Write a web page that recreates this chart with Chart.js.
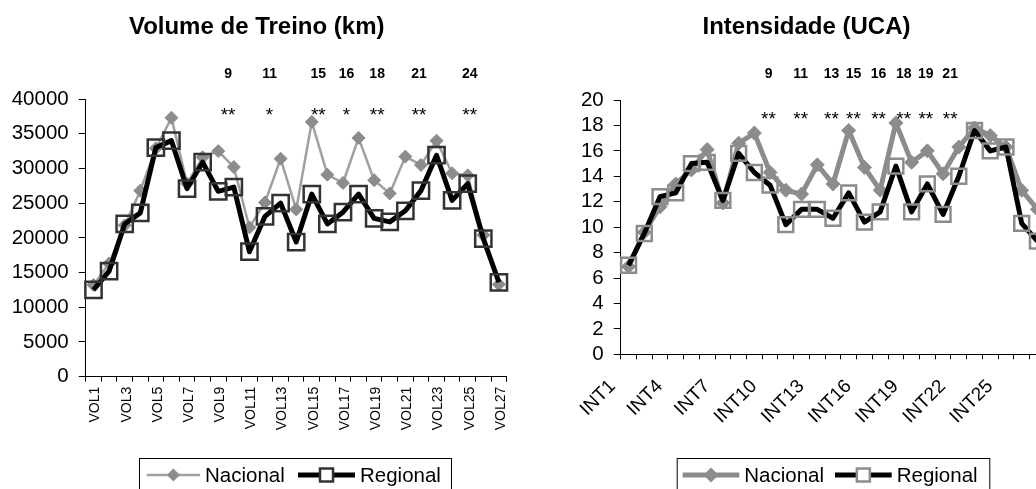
<!DOCTYPE html>
<html>
<head>
<meta charset="utf-8">
<script src="https://cdn.jsdelivr.net/npm/chart.js@4/dist/chart.umd.min.js"></script>
<style>
  html, body { margin: 0; padding: 0; background: #fff; }
  body { width: 1036px; height: 489px; overflow: hidden; position: relative; }
  .panel { position: absolute; top: 0; }
  #leftPanel  { left: 0; }
  #rightPanel { left: 530px; }
</style>
</head>
<body>
<div class="panel" id="leftPanel"><canvas id="volChart" width="530" height="489"></canvas></div>
<div class="panel" id="rightPanel"><canvas id="intChart" width="540" height="489"></canvas></div>

<script>
// ── data ───────────────────────────────────────────────────────────
const volLabels = ['VOL1','VOL2','VOL3','VOL4','VOL5','VOL6','VOL7','VOL8','VOL9','VOL10',
  'VOL11','VOL12','VOL13','VOL14','VOL15','VOL16','VOL17','VOL18','VOL19','VOL20',
  'VOL21','VOL22','VOL23','VOL24','VOL25','VOL26','VOL27'];
const volNacional = [13200, 16300, 21800, 26800, 32900, 37300, 27800, 31600, 32500, 30200,
  21500, 25100, 31400, 24100, 36700, 29100, 27900, 34400, 28300, 26400,
  31700, 30500, 34000, 29300, 29000, 20400, 13300];
const volRegional = [12500, 15200, 22000, 23600, 33000, 34000, 27100, 30900, 26700, 27300,
  18000, 23100, 25000, 19400, 26300, 22000, 23700, 26300, 22800, 22300,
  23900, 26800, 31900, 25400, 27800, 19900, 13600];
const volTicks = [0, 5000, 10000, 15000, 20000, 25000, 30000, 35000, 40000];
const volMarks = ['9', '11', '15', '16', '18', '21', '24'];
const volStars = ['**', '*', '**', '*', '**', '**', '**'];
const volMarkAt = [8.63, 11.29, 14.42, 16.23, 18.19, 20.88, 24.13]; // category units

const intLabels = ['INT1','INT2','INT3','INT4','INT5','INT6','INT7','INT8','INT9','INT10',
  'INT11','INT12','INT13','INT14','INT15','INT16','INT17','INT18','INT19','INT20',
  'INT21','INT22','INT23','INT24','INT25','INT26','INT27'];
const intNacional = [6.9, 9.6, 11.6, 13.4, 14.5, 16.1, 11.9, 16.6, 17.4, 14.3,
  12.9, 12.6, 14.9, 13.4, 17.6, 14.7, 12.9, 18.2, 15.1, 16.0,
  14.2, 16.3, 17.8, 17.2, 16.3, 12.9, 11.4];
const intRegional = [7.0, 9.5, 12.4, 12.7, 15.0, 15.1, 12.1, 15.8, 14.3, 13.3,
  10.2, 11.4, 11.4, 10.7, 12.7, 10.4, 11.2, 14.8, 11.2, 13.4,
  11.0, 14.0, 17.6, 16.0, 16.3, 10.3, 8.9];
const intTicks = [0, 2, 4, 6, 8, 10, 12, 14, 16, 18, 20];
const intMarks = ['9', '11', '13', '15', '16', '18', '19', '21'];
const intStars = ['**', '**', '**', '**', '**', '**', '**', '**'];
const intMarkAt = [8.9, 10.95, 12.9, 14.3, 15.9, 17.5, 18.9, 20.45];

// ── helpers ────────────────────────────────────────────────────────
const FONT = '"Liberation Sans", Arial, Helvetica, sans-serif';
Chart.defaults.font.family = FONT;
Chart.defaults.color = '#000';

function marker(ctx, style, x, y, r, fill, stroke, lw) {
  ctx.beginPath();
  if (style === 'diamond') {
    ctx.moveTo(x, y - r); ctx.lineTo(x + r, y); ctx.lineTo(x, y + r); ctx.lineTo(x - r, y);
  } else {
    ctx.rect(x - r, y - r, r * 2, r * 2);
  }
  ctx.closePath();
  if (fill) { ctx.fillStyle = fill; ctx.fill(); }
  if (stroke) { ctx.strokeStyle = stroke; ctx.lineWidth = lw; ctx.stroke(); }
}

// title, session marks and boxed legend
const overlay = {
  id: 'overlay',
  afterDraw(chart, args, o) {
    const ctx = chart.ctx;
    const xs = chart.scales.x;
    ctx.save();
    ctx.fillStyle = '#000';
    ctx.textAlign = 'center';
    ctx.textBaseline = 'middle';
    ctx.font = 'bold 24px ' + FONT;
    ctx.fillText(o.title, o.titleX, 27);

    ctx.textBaseline = 'alphabetic';
    o.marks.forEach((m, i) => {
      const px = xs.getPixelForValue(o.markAt[i]);
      ctx.font = 'bold 14px ' + FONT;
      ctx.fillText(m, px, 78);
      ctx.font = '19px ' + FONT;
      ctx.fillText(o.stars[i], px, o.starY);
    });

    // legend
    const L = o.legend;
    ctx.strokeStyle = '#000';
    ctx.lineWidth = 1;
    ctx.strokeRect(L.left + 0.5, 458.5, L.width, 60);
    const ly = 475;
    L.items.forEach(it => {
      ctx.beginPath();
      ctx.moveTo(it.x0, ly); ctx.lineTo(it.x1, ly);
      ctx.strokeStyle = it.line; ctx.lineWidth = it.lw; ctx.stroke();
      marker(ctx, it.style, (it.x0 + it.x1) / 2, ly, it.r, it.fill, it.stroke, it.mlw);
      ctx.fillStyle = '#000';
      ctx.textAlign = 'left';
      ctx.textBaseline = 'middle';
      ctx.font = '20.5px ' + FONT;
      ctx.fillText(it.text, it.x1 + 5, ly + 1);
    });
    ctx.restore();
  }
};

function buildChart(id, cfg) {
  const ticks = cfg.ticks;
  return new Chart(document.getElementById(id), {
    type: 'line',
    data: {
      labels: cfg.labels,
      datasets: [
        {
          label: 'Nacional',
          data: cfg.nacional,
          order: 2,
          borderColor: cfg.nacLine,
          borderWidth: cfg.nacWidth,
          tension: 0,
          borderJoinStyle: 'round',
          pointStyle: 'rectRot',
          pointRadius: cfg.nacRadius,
          pointBackgroundColor: '#8c8c8c',
          pointBorderColor: '#8c8c8c',
          pointBorderWidth: 1,
        },
        {
          label: 'Regional',
          data: cfg.regional,
          order: 1,
          borderColor: '#000',
          borderWidth: 5,
          tension: 0,
          borderJoinStyle: 'round',
          pointStyle: 'rect',
          pointRadius: cfg.regRadius,
          pointBackgroundColor: 'rgba(0,0,0,0)',
          pointBorderColor: cfg.regBorder,
          pointBorderWidth: 2.5,
        },
      ],
    },
    options: {
      responsive: false,
      animation: false,
      events: [],
      layout: { padding: { left: 0, right: cfg.padRight, top: cfg.padTop, bottom: 0 } },
      plugins: {
        legend: { display: false },
        tooltip: { enabled: false },
        title: { display: false },
        overlay: cfg.overlay,
      },
      scales: {
        x: {
          type: 'category',
          offset: true,
          grid: { offset: true, drawOnChartArea: false, drawTicks: true, tickLength: 5, color: '#000' },
          border: { display: true, color: '#000', width: 1 },
          ticks: {
            autoSkip: false,
            minRotation: cfg.rotation,
            maxRotation: cfg.rotation,
            padding: cfg.xPad,
            labelOffset: cfg.xShift,
            font: { size: cfg.xFont },
            color: '#000',
            callback: (v, i) => (i % cfg.every === 0 ? cfg.labels[i] : ''),
          },
          afterFit: s => { s.height = cfg.xHeight; },
        },
        y: {
          min: ticks[0],
          max: ticks[ticks.length - 1],
          afterBuildTicks: s => { s.ticks = ticks.map(v => ({ value: v })); },
          grid: { drawOnChartArea: false, drawTicks: true, tickLength: 7, color: '#000' },
          border: { display: true, color: '#000', width: 1 },
          ticks: {
            autoSkip: false,
            padding: 10,
            font: { size: 20.5 },
            color: '#000',
            callback: v => String(v),
          },
          afterFit: s => { s.width = cfg.yWidth; },
        },
      },
    },
    plugins: [overlay],
  });
}

document.addEventListener('DOMContentLoaded', () => {
  buildChart('volChart', {
    labels: volLabels, nacional: volNacional, regional: volRegional, ticks: volTicks,
    nacLine: '#a0a0a0', nacWidth: 2.5, nacRadius: 6.5,
    regRadius: 11.5, regBorder: '#333',
    padRight: 23.3, padTop: 99, yWidth: 85.7, xHeight: 112.3,
    rotation: 90, xFont: 14, every: 2, xPad: 5, xShift: 2,
    overlay: {
      title: 'Volume de Treino (km)', titleX: 256.7, starY: 121,
      marks: volMarks, stars: volStars, markAt: volMarkAt,
      legend: {
        left: 139, width: 312,
        items: [
          { text: 'Nacional', x0: 146.7, x1: 200, line: '#a0a0a0', lw: 2.5, style: 'diamond', r: 6.5, fill: '#8c8c8c', stroke: null, mlw: 0 },
          { text: 'Regional', x0: 298, x1: 355, line: '#000', lw: 5, style: 'square', r: 6.5, fill: '#fff', stroke: '#333', mlw: 2.5 },
        ],
      },
    },
  });

  buildChart('intChart', {
    labels: intLabels, nacional: intNacional, regional: intRegional, ticks: intTicks,
    nacLine: '#8c8c8c', nacWidth: 5, nacRadius: 7,
    regRadius: 10.5, regBorder: '#8c8c8c',
    padRight: 24.6, padTop: 100, yWidth: 90.7, xHeight: 134.7,
    rotation: 45, xFont: 19, every: 3, xPad: 16, xShift: -16,
    overlay: {
      title: 'Intensidade (UCA)', titleX: 276.5, starY: 124.5,
      marks: intMarks, stars: intStars, markAt: intMarkAt,
      legend: {
        left: 146.7, width: 312.6,
        items: [
          { text: 'Nacional', x0: 152.7, x1: 209.3, line: '#8c8c8c', lw: 5, style: 'diamond', r: 7.5, fill: '#8c8c8c', stroke: null, mlw: 0 },
          { text: 'Regional', x0: 305, x1: 361.7, line: '#000', lw: 5, style: 'square', r: 6.5, fill: '#fff', stroke: '#8c8c8c', mlw: 2.5 },
        ],
      },
    },
  });
});
</script>
</body>
</html>
